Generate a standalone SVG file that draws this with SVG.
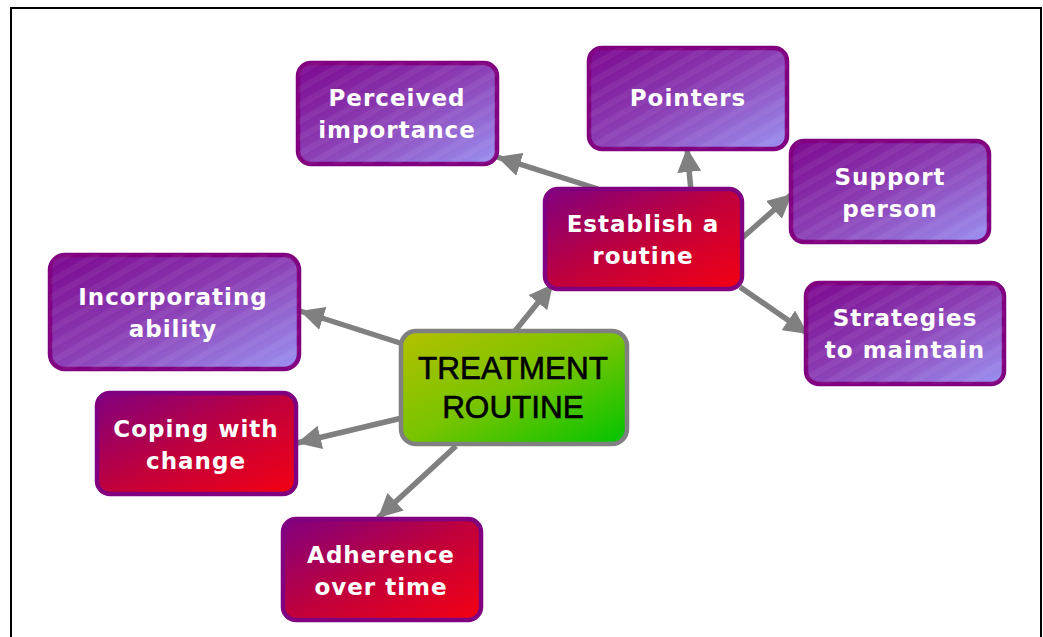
<svg xmlns="http://www.w3.org/2000/svg" width="1043" height="637" viewBox="0 0 1043 637">
<style>
.box{stroke:#800080;stroke-width:4.5}
.purple{fill:url(#gPurple)}
.red{fill:url(#gRed)}
.t{font-family:"DejaVu Sans",Verdana,sans-serif;font-weight:bold;font-size:23px;fill:#ffffff;text-anchor:middle;letter-spacing:1px}
.c{font-family:"Liberation Sans",Arial,sans-serif;font-size:31.5px;fill:#000000;stroke:#000000;stroke-width:0.6;text-anchor:middle}
.conn{stroke:#808080;stroke-width:5.5;fill:none}
</style>
<defs>
<linearGradient id="gPurple" x1="0" y1="0" x2="1" y2="1">
<stop offset="0" stop-color="#7c0890"/>
<stop offset="0.5" stop-color="#8c40b6"/>
<stop offset="1" stop-color="#9b92f2"/>
</linearGradient>
<linearGradient id="gRed" x1="0" y1="0" x2="1" y2="1">
<stop offset="0" stop-color="#800080"/>
<stop offset="0.5" stop-color="#c0003c"/>
<stop offset="1" stop-color="#f50012"/>
</linearGradient>
<linearGradient id="gGreen" x1="0" y1="0" x2="1" y2="1">
<stop offset="0" stop-color="#b4c000"/>
<stop offset="0.5" stop-color="#78c400"/>
<stop offset="1" stop-color="#00c400"/>
</linearGradient>
<pattern id="stripes" width="14" height="14" patternUnits="userSpaceOnUse" patternTransform="rotate(-30)">
<rect width="14" height="6" fill="#ffffff" opacity="0.05"/>
</pattern>
<marker id="arr" markerUnits="userSpaceOnUse" markerWidth="26" markerHeight="24" refX="24" refY="12" orient="auto">
<path d="M0,0 L24,12 L0,24 Z" fill="#808080"/>
</marker>
</defs>
<rect x="0" y="0" width="1043" height="637" fill="#ffffff"/>
<path d="M11,637 V8 H1041 V637" fill="none" stroke="#000000" stroke-width="2"/>

<g id="connectors">
<line class="conn" x1="400" y1="343" x2="300" y2="311" marker-end="url(#arr)"/>
<line class="conn" x1="402" y1="418" x2="297" y2="443" marker-end="url(#arr)"/>
<line class="conn" x1="456" y1="446" x2="378" y2="518" marker-end="url(#arr)"/>
<line class="conn" x1="515" y1="331" x2="553" y2="284" marker-end="url(#arr)"/>
<line class="conn" x1="598" y1="189" x2="497" y2="157" marker-end="url(#arr)"/>
<line class="conn" x1="691" y1="191" x2="687" y2="148" marker-end="url(#arr)"/>
<line class="conn" x1="741" y1="239" x2="792" y2="194" marker-end="url(#arr)"/>
<line class="conn" x1="740" y1="287" x2="808" y2="334" marker-end="url(#arr)"/>
</g>

<g id="perceived">
<rect class="box purple" x="298" y="63" width="199" height="101" rx="13"/>
<rect x="298" y="63" width="199" height="101" rx="13" fill="url(#stripes)"/>
<text class="t" x="397" y="106">Perceived</text>
<text class="t" x="397" y="138">importance</text>
</g>
<g id="pointers">
<rect class="box purple" x="589" y="48" width="198" height="101" rx="13"/>
<rect x="589" y="48" width="198" height="101" rx="13" fill="url(#stripes)"/>
<text class="t" x="688" y="106">Pointers</text>
</g>
<g id="support">
<rect class="box purple" x="791" y="141" width="198" height="101" rx="13"/>
<rect x="791" y="141" width="198" height="101" rx="13" fill="url(#stripes)"/>
<text class="t" x="890" y="185">Support</text>
<text class="t" x="890" y="217">person</text>
</g>
<g id="establish">
<rect class="box red" x="545" y="189" width="197" height="100" rx="13"/>
<text class="t" x="643" y="232">Establish a</text>
<text class="t" x="643" y="264">routine</text>
</g>
<g id="strategies">
<rect class="box purple" x="806" y="283" width="198" height="101" rx="13"/>
<rect x="806" y="283" width="198" height="101" rx="13" fill="url(#stripes)"/>
<text class="t" x="905" y="326">Strategies</text>
<text class="t" x="905" y="358">to maintain</text>
</g>
<g id="incorporating">
<rect class="box purple" x="50" y="255" width="249" height="114" rx="15"/>
<rect x="50" y="255" width="249" height="114" rx="15" fill="url(#stripes)"/>
<text class="t" x="173" y="305">Incorporating</text>
<text class="t" x="173" y="337">ability</text>
</g>
<g id="treatment">
<rect x="401" y="331" width="226" height="113" rx="15" fill="url(#gGreen)" stroke="#808080" stroke-width="4.5"/>
<text class="c" x="513" y="379">TREATMENT</text>
<text class="c" x="513" y="418">ROUTINE</text>
</g>
<g id="coping">
<rect class="box red" x="97" y="393" width="199" height="101" rx="13"/>
<text class="t" x="196" y="437">Coping with</text>
<text class="t" x="196" y="469">change</text>
</g>
<g id="adherence">
<rect class="box red" x="283" y="519" width="198" height="101" rx="13"/>
<text class="t" x="381" y="563">Adherence</text>
<text class="t" x="381" y="595">over time</text>
</g>
</svg>
